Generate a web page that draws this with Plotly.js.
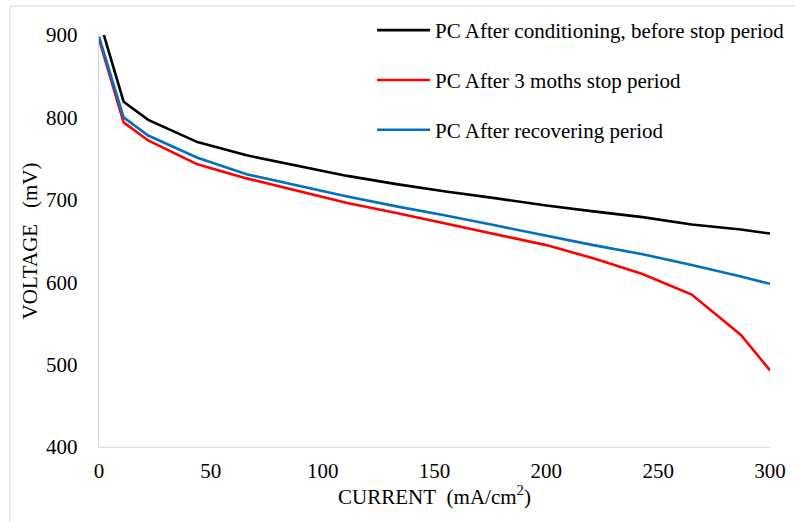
<!DOCTYPE html>
<html>
<head>
<meta charset="utf-8">
<script src="https://cdn.plot.ly/plotly-3.0.1.min.js"></script>
<style>
  html, body { margin: 0; padding: 0; background: #ffffff; }
  #chart { width: 795px; height: 522px; }
</style>
</head>
<body>
<div id="chart"></div>
<script>
// Current density (mA/cm2)
const current = [0, 11, 22, 44, 66, 89, 111, 133, 155, 177, 200, 221, 243, 265, 287, 300];

// Voltage (mV)
const vBeforeStop = [920, 819, 797, 770, 754, 741, 729, 719, 710, 702, 693, 686, 679, 670, 664, 659];
const vAfterStop  = [895, 794, 772, 743, 726, 711, 696, 684, 671, 658, 645, 629, 610, 585, 536, 493];
const vRecovered  = [898, 800, 778, 751, 731, 717, 704, 692, 681, 669, 656, 645, 634, 621, 607, 598];

const seriesNames = [
  'PC After conditioning, before stop period',
  'PC After 3 moths stop period',
  'PC After recovering period'
];
const seriesColors = ['#000000', '#ff0000', '#0070c0'];
const seriesValues = [vBeforeStop, vAfterStop, vRecovered];

const xTicks = [0, 50, 100, 150, 200, 250, 300];
const yTicks = [400, 500, 600, 700, 800, 900];

const FONT = 'Liberation Serif';

const traces = seriesValues.map((vals, i) => ({
  type: 'scatter',
  mode: 'lines',
  x: current,
  y: vals,
  name: seriesNames[i],
  legendgroup: 'g' + i,
  line: { color: seriesColors[i], width: 2.6 }
}));

const layout = {
  width: 795,
  height: 522,
  paper_bgcolor: '#ffffff',
  plot_bgcolor: '#ffffff',
  margin: { l: 99, r: 25, t: 35, b: 75, autoexpand: false },
  font: { family: FONT, size: 21, color: '#000000' },
  showlegend: true,
  legend: {
    x: 0.4069, xanchor: 'left',
    y: 1.0607, yanchor: 'top',
    bgcolor: 'rgba(0,0,0,0)',
    borderwidth: 0,
    font: { family: FONT, size: 21, color: '#000000' },
    tracegroupgap: 19.5,
    itemwidth: 53
  },
  xaxis: {
    range: [0, 300],
    tickvals: xTicks,
    ticktext: xTicks.map(String),
    showgrid: false,
    zeroline: false,
    showline: true,
    linecolor: '#d9d9d9',
    linewidth: 1.3,
    ticks: '',
    ticklabelstandoff: 4,
    tickfont: { family: FONT, size: 21, color: '#000000' },
    title: {
      text: 'CURRENT\u00a0 (mA/cm<sup>2</sup>)',
      font: { family: FONT, size: 21, color: '#000000' },
      standoff: 7
    },
    automargin: false
  },
  yaxis: {
    range: [400, 900],
    tickvals: yTicks,
    ticktext: yTicks.map(String),
    showgrid: false,
    zeroline: false,
    showline: true,
    linecolor: '#d9d9d9',
    linewidth: 1.3,
    ticks: '',
    ticklabelstandoff: 16,
    tickfont: { family: FONT, size: 21, color: '#000000' },
    title: {
      text: 'VOLTAGE\u00a0\u00a0 (mV)',
      font: { family: FONT, size: 21, color: '#000000' },
      standoff: 2
    },
    automargin: false
  },
  shapes: [{
    type: 'rect',
    xref: 'paper', yref: 'paper',
    x0: -0.1326, x1: 1.045,
    y0: -0.2015, y1: 1.0704,
    line: { color: '#d9d9d9', width: 1 },
    fillcolor: 'rgba(0,0,0,0)',
    layer: 'below'
  }]
};

Plotly.newPlot('chart', traces, layout, { staticPlot: true, displayModeBar: false });
</script>
</body>
</html>
